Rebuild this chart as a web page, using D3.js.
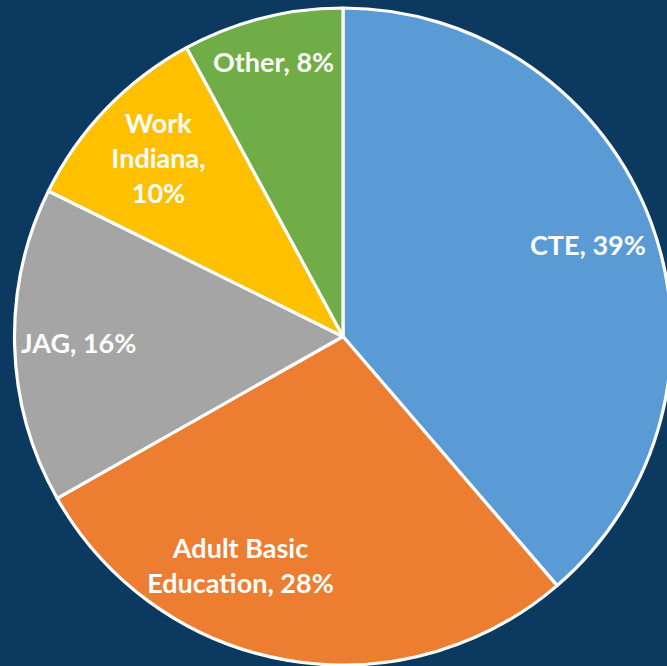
<!DOCTYPE html>
<html>
<head>
<meta charset="utf-8">
<script src="https://cdn.jsdelivr.net/npm/d3@7"></script>
<style>
  html, body { margin: 0; padding: 0; background: #0B3960; }
  svg { display: block; }
</style>
</head>
<body>
<svg id="chart" width="667" height="666"></svg>
<script>
// Data
const categories = ["CTE", "Adult Basic Education", "JAG", "Work Indiana", "Other"];
const values = [38.7, 28.1, 15.5, 9.8, 7.9];
const labelLines = [
  ["CTE, 39%"],
  ["Adult Basic", "Education, 28%"],
  ["JAG, 16%"],
  ["Work", "Indiana,", "10%"],
  ["Other, 8%"]
];
const colors = ["#5B9BD5", "#ED7D31", "#A5A5A5", "#FFC000", "#70AD47"];
// label placement: fraction along slice angle, fraction of radius
const labelAngleFrac = [0.5, 0.64, 0.5, 0.5, 0.5];
const labelRadiusFrac = [0.795, 0.765, 0.805, 0.78, 0.86];

const width = 667, height = 666;
const cx = 343, cy = 336.5, R = 328.5;

const svg = d3.select("#chart");
svg.append("rect").attr("width", width).attr("height", height).attr("fill", "#0B3960");

const g = svg.append("g").attr("transform", `translate(${cx},${cy})`);

const pie = d3.pie().sort(null).value(d => d);
const arcs = pie(values);
const arc = d3.arc().innerRadius(0).outerRadius(R);

g.selectAll("path.slice")
  .data(arcs)
  .join("path")
  .attr("class", "slice")
  .attr("d", arc)
  .attr("fill", (d, i) => colors[i])
  .attr("stroke", "#FFFFFF")
  .attr("stroke-width", 3.2)
  .attr("stroke-linejoin", "round");

const fontSize = 27;
const lineH = 35;
const labels = g.selectAll("text.lbl")
  .data(arcs)
  .join("text")
  .attr("class", "lbl")
  .attr("text-anchor", "middle")
  .attr("fill", "#FFFFFF")
  .style("font-family", "Lato, 'Open Sans', sans-serif")
  .style("font-weight", "bold")
  .style("font-size", fontSize + "px")
  .attr("transform", (d, i) => {
    const a = d.startAngle + (d.endAngle - d.startAngle) * labelAngleFrac[i];
    const r = R * labelRadiusFrac[i];
    return `translate(${r * Math.sin(a)},${-r * Math.cos(a)})`;
  });

labels.each(function(d, i) {
  const lines = labelLines[i];
  const n = lines.length;
  d3.select(this).selectAll("tspan")
    .data(lines)
    .join("tspan")
    .attr("x", 0)
    .attr("y", (t, k) => (k - (n - 1) / 2) * lineH)
    .attr("dy", "0.35em")
    .text(t => t);
});
</script>
</body>
</html>
